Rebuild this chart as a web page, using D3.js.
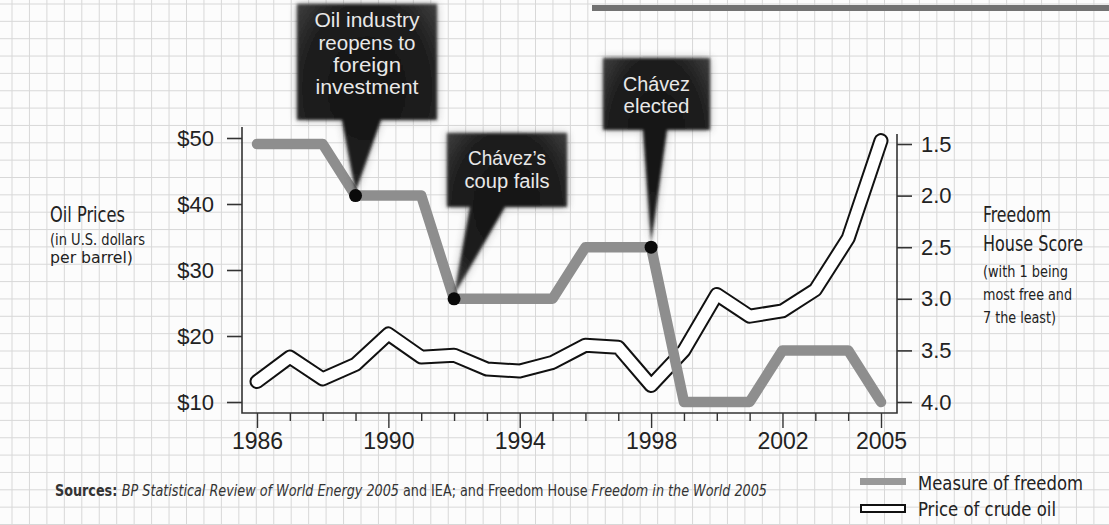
<!DOCTYPE html>
<html>
<head>
<meta charset="utf-8">
<script src="https://cdn.jsdelivr.net/npm/d3@7"></script>
<style>
  body { margin: 0; background: #fcfcfc; }
  svg { display: block; }
</style>
</head>
<body>
<div id="chart"></div>
<script>
// Data
const years = [1986, 1987, 1988, 1989, 1990, 1991, 1992, 1993, 1994, 1995,
               1996, 1997, 1998, 1999, 2000, 2001, 2002, 2003, 2004, 2005];
const oilPrice = [13.1, 16.8, 13.5, 15.7, 20.3, 16.8, 17.1, 15.0, 14.7, 16.0,
                  18.6, 18.3, 12.5, 17.8, 26.3, 23.0, 23.8, 27.0, 34.8, 49.6];
const freedomScore = [1.5, 1.5, 1.5, 2.0, 2.0, 2.0, 3.0, 3.0, 3.0, 3.0,
                      2.5, 2.5, 2.5, 4.0, 4.0, 4.0, 3.5, 3.5, 3.5, 4.0];
const yearLabels = [1986, 1990, 1994, 1998, 2002, 2005];
const priceTicks = [10, 20, 30, 40, 50];
const scoreTicks = [1.5, 2.0, 2.5, 3.0, 3.5, 4.0];
const eventYears = [1989, 1992, 1998];
const eventText = [
    ['Oil industry', 'reopens to', 'foreign', 'investment'],
    ['Chávez’s', 'coup fails'],
    ['Chávez', 'elected']
];

const width = 1109, height = 525;
const narrow = "'Liberation Sans Narrow', 'DejaVu Sans Condensed', sans-serif";
const tickFont = "'Liberation Sans', Arial, sans-serif";

// squeeze or stretch a text to the width it has in the reference
function fit(sel, w) {
    sel.attr('textLength', w).attr('lengthAdjust', 'spacingAndGlyphs');
    return sel;
}

const svg = d3.select('#chart').append('svg')
    .attr('width', width)
    .attr('height', height);

const defs = svg.append('defs');
const boxGrad = defs.append('radialGradient').attr('id', 'box-grad')
    .attr('cx', '50%').attr('cy', '45%').attr('r', '70%');
boxGrad.append('stop').attr('offset', '0%').attr('stop-color', '#121212');
boxGrad.append('stop').attr('offset', '65%').attr('stop-color', '#1e1e1e');
boxGrad.append('stop').attr('offset', '100%').attr('stop-color', '#444');
defs.append('filter').attr('id', 'soft')
    .attr('x', '-10%').attr('y', '-10%').attr('width', '120%').attr('height', '120%')
    .append('feGaussianBlur').attr('stdDeviation', 1.6);
defs.append('filter').attr('id', 'glow')
    .attr('x', '-20%').attr('y', '-20%').attr('width', '140%').attr('height', '140%')
    .append('feGaussianBlur').attr('stdDeviation', 4);

// Graph paper background
svg.append('rect').attr('width', width).attr('height', height).attr('fill', '#fcfcfc');
const grid = svg.append('g').attr('stroke', '#d8d8d8').attr('stroke-width', 1);
for (let gx = 12; gx < width; gx += 17.45) {
    grid.append('line').attr('x1', gx).attr('x2', gx).attr('y1', 0).attr('y2', height);
}
for (let gy = 4; gy < height; gy += 17.35) {
    grid.append('line').attr('x1', 0).attr('x2', width).attr('y1', gy).attr('y2', gy);
}

// Dark bar at the top right
svg.append('rect').attr('x', 592).attr('y', 5).attr('width', width - 592).attr('height', 6)
    .attr('fill', '#727272');

// Scales
const x = d3.scaleLinear().domain([1986, 2005]).range([257, 881]);
const yPrice = d3.scaleLinear().domain([10, 50]).range([402, 138]);
const yScore = d3.scaleLinear().domain([1.5, 4.0]).range([144, 402]);

const axisLeftX = 242, axisRightX = 897, axisBottomY = 413;

// Frame
svg.append('path')
    .attr('d', `M${axisLeftX},127 V${axisBottomY} H${axisRightX} V134`)
    .attr('stroke', '#333').attr('stroke-width', 1.6).attr('fill', 'none');

// Left axis
const leftAxis = svg.append('g')
    .attr('transform', `translate(${axisLeftX},0)`)
    .call(d3.axisLeft(yPrice).tickValues(priceTicks).tickSize(15).tickPadding(13)
        .tickFormat(d => '$' + d));
leftAxis.select('.domain').remove();
leftAxis.selectAll('line').attr('stroke', '#333').attr('stroke-width', 1.6);
leftAxis.selectAll('text')
    .style('font-family', tickFont).style('font-size', '22px').attr('fill', '#222');

// Right axis
const rightAxis = svg.append('g')
    .attr('transform', `translate(${axisRightX},0)`)
    .call(d3.axisRight(yScore).tickValues(scoreTicks).tickSize(15).tickPadding(9)
        .tickFormat(d3.format('.1f')));
rightAxis.select('.domain').remove();
rightAxis.selectAll('line').attr('stroke', '#333').attr('stroke-width', 1.6);
rightAxis.selectAll('text')
    .style('font-family', tickFont).style('font-size', '22px').attr('fill', '#222');

// Bottom axis
const bottomAxis = svg.append('g')
    .attr('transform', `translate(0,${axisBottomY})`)
    .call(d3.axisBottom(x).tickValues(years).tickSize(8).tickPadding(12)
        .tickFormat(d => yearLabels.includes(d) ? d : ''));
bottomAxis.select('.domain').remove();
bottomAxis.selectAll('line')
    .attr('stroke', '#333').attr('stroke-width', 1.4)
    .attr('y2', d => yearLabels.includes(d) ? 15 : 8);
bottomAxis.selectAll('text')
    .attr('y', 20)
    .style('font-family', tickFont).style('font-size', '23px').attr('fill', '#222');

// Oil price: double line (black outline, white centre)
const oilLine = d3.line().x((d, i) => x(years[i])).y(d => yPrice(d));
svg.append('path').datum(oilPrice)
    .attr('d', oilLine).attr('fill', 'none')
    .attr('stroke', '#111').attr('stroke-width', 15)
    .attr('stroke-linejoin', 'round').attr('stroke-linecap', 'round');
svg.append('path').datum(oilPrice)
    .attr('d', oilLine).attr('fill', 'none')
    .attr('stroke', '#fff').attr('stroke-width', 11)
    .attr('stroke-linejoin', 'round').attr('stroke-linecap', 'round');

// Freedom score: thick gray line
const scoreLine = d3.line().x((d, i) => x(years[i])).y(d => yScore(d));
svg.append('path').datum(freedomScore)
    .attr('d', scoreLine).attr('fill', 'none')
    .attr('stroke', '#8e8e8e').attr('stroke-width', 10.5)
    .attr('stroke-linejoin', 'round').attr('stroke-linecap', 'round');

// Callouts
const boxes = [
    {x0: 297, y0: 4, x1: 437, y1: 120, pl: 342, pr: 381},
    {x0: 447, y0: 133, x1: 567, y1: 207, pl: 470, pr: 505},
    {x0: 603, y0: 58, x1: 710, y1: 130, pl: 643, pr: 667}
];
const lineY = [[20, 43, 65, 87], [158, 181], [84, 106]];
const lineW = [[105, 97, 68, 103], [78, 85], [67, 66]];

eventYears.forEach((yr, i) => {
    const b = boxes[i];
    const tx = x(yr);
    const ty = yScore(freedomScore[years.indexOf(yr)]) - 4;
    const d = `M${b.x0},${b.y0} H${b.x1} V${b.y1} H${b.pr} L${tx},${ty} L${b.pl},${b.y1} H${b.x0} Z`;
    const g = svg.append('g').attr('class', 'callout');
    g.append('path').attr('d', d).attr('fill', '#555').attr('opacity', 0.45)
        .attr('filter', 'url(#glow)');
    g.append('path').attr('d', d).attr('fill', 'url(#box-grad)')
        .attr('filter', 'url(#soft)');
    g.selectAll('text').data(eventText[i]).enter().append('text')
        .attr('x', (b.x0 + b.x1) / 2)
        .attr('y', (t, j) => lineY[i][j])
        .attr('dy', '0.36em')
        .attr('text-anchor', 'middle')
        .attr('textLength', (t, j) => lineW[i][j])
        .attr('lengthAdjust', 'spacingAndGlyphs')
        .style('font-family', "'Liberation Sans', Arial, sans-serif")
        .style('font-size', '19.5px')
        .attr('fill', '#e8e8e8')
        .text(t => t);
});

// Dots where the callouts point
svg.selectAll('.event-dot').data(eventYears).enter().append('circle')
    .attr('class', 'event-dot')
    .attr('cx', d => x(d))
    .attr('cy', d => yScore(freedomScore[years.indexOf(d)]))
    .attr('r', 6.5)
    .attr('fill', '#0a0a0a');

// Axis titles
const leftTitle = svg.append('g').attr('fill', '#222').style('font-family', narrow);
fit(leftTitle.append('text').attr('x', 50).attr('y', 222).style('font-size', '21px').text('Oil Prices'), 75);
fit(leftTitle.append('text').attr('x', 50).attr('y', 245).style('font-size', '16px').text('(in U.S. dollars'), 95);
fit(leftTitle.append('text').attr('x', 50).attr('y', 263).style('font-size', '16px').text('per barrel)'), 83);

const rightTitle = svg.append('g').attr('fill', '#222').style('font-family', narrow);
fit(rightTitle.append('text').attr('x', 983).attr('y', 222).style('font-size', '21px').text('Freedom'), 68);
fit(rightTitle.append('text').attr('x', 983).attr('y', 251).style('font-size', '21px').text('House Score'), 100);
fit(rightTitle.append('text').attr('x', 983).attr('y', 277).style('font-size', '16px').text('(with 1 being'), 85);
fit(rightTitle.append('text').attr('x', 983).attr('y', 300).style('font-size', '16px').text('most free and'), 89);
fit(rightTitle.append('text').attr('x', 983).attr('y', 323).style('font-size', '16px').text('7 the least)'), 73);

// Legend
const legend = svg.append('g');
legend.append('rect').attr('x', 860).attr('y', 478).attr('width', 46).attr('height', 7)
    .attr('fill', '#999');
legend.append('rect').attr('x', 861).attr('y', 505).attr('width', 44).attr('height', 7)
    .attr('fill', '#fff').attr('stroke', '#111').attr('stroke-width', 2);
fit(legend.append('text').attr('x', 918).attr('y', 490)
    .style('font-family', narrow).style('font-size', '20px').attr('fill', '#222')
    .text('Measure of freedom'), 165);
fit(legend.append('text').attr('x', 918).attr('y', 516)
    .style('font-family', narrow).style('font-size', '20px').attr('fill', '#222')
    .text('Price of crude oil'), 138);

// Sources line
const src = svg.append('text').attr('x', 55).attr('y', 496)
    .style('font-family', narrow).style('font-size', '15px').attr('fill', '#333');
src.append('tspan').style('font-weight', 'bold').text('Sources: ');
src.append('tspan').style('font-style', 'italic').text('BP Statistical Review of World Energy 2005');
src.append('tspan').text(' and IEA; and Freedom House ');
src.append('tspan').style('font-style', 'italic').text('Freedom in the World 2005');
fit(src, 712);
</script>
</body>
</html>
